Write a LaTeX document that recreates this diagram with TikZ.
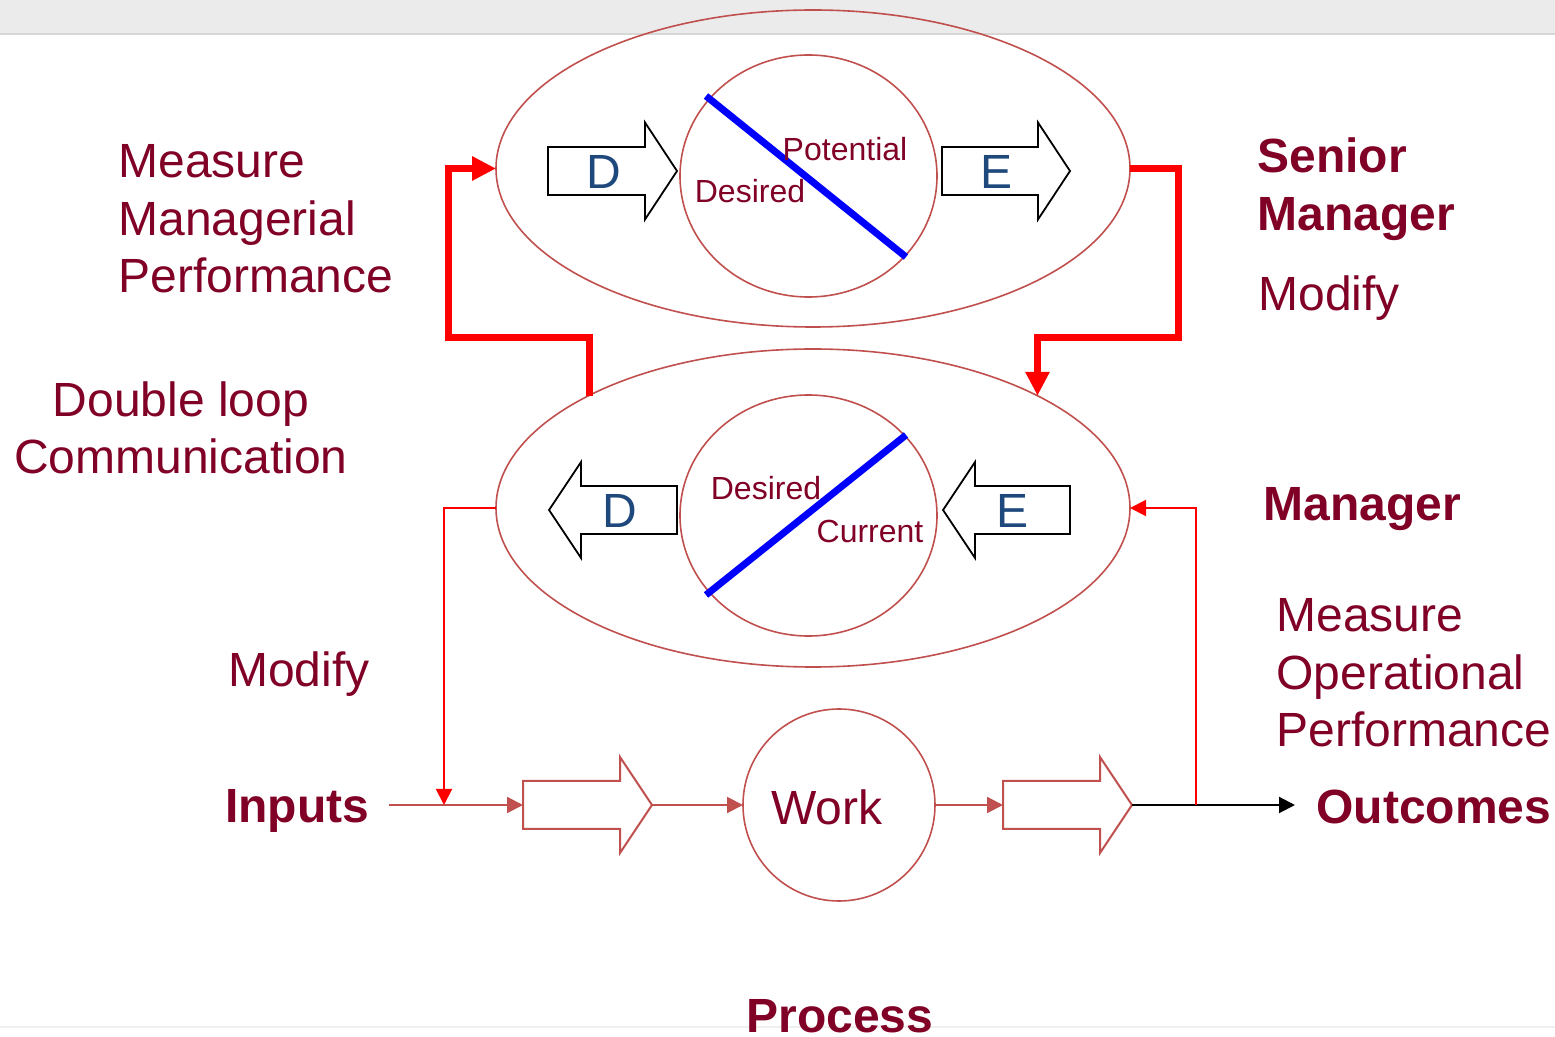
\documentclass[tikz,border=0pt]{standalone}
\usepackage{fontspec}
\setmainfont{Liberation Sans}
\usetikzlibrary{arrows.meta,shapes.geometric}
\definecolor{txt}{RGB}{128,0,38}
\definecolor{ell}{RGB}{192,80,77}
\definecolor{dblue}{RGB}{31,73,125}
\definecolor{barfill}{RGB}{235,235,235}
\definecolor{barline}{RGB}{215,215,215}
\definecolor{faint}{RGB}{240,240,240}
\begin{document}
\begin{tikzpicture}[x=0.5pt,y=-0.5pt,
  lbl/.style={text=txt,font=\fontsize{24}{28.75}\selectfont,inner sep=0pt},
  blbl/.style={lbl,font=\fontsize{24}{28.75}\selectfont\bfseries},
  small/.style={text=txt,font=\fontsize{16}{19}\selectfont,inner sep=0pt},
  ellip/.style={ellipse,draw=ell,line width=0.8pt,inner sep=0pt,outer sep=0pt},
  blockar/.style={draw=black,fill=white,line width=0.9pt,line join=miter},
  procar/.style={draw=ell,fill=white,line width=1pt,line join=miter},
  letter/.style={text=dblue,font=\fontsize{24}{28}\selectfont,inner sep=0pt},
  thick red/.style={draw=red,line width=3.5pt,-{Triangle[length=12pt,width=11.5pt]}},
  thin red/.style={draw=red,line width=1pt,-{Triangle[length=8pt,width=8pt]}},
  flow/.style={draw=ell,line width=1pt,-{Triangle[length=8pt,width=8pt]}},
  bflow/.style={draw=black,line width=1pt,-{Triangle[length=8pt,width=8pt]}},
  diag/.style={draw=blue,line width=3.5pt}
]
\useasboundingbox (0,0) rectangle (1555,1037);
% top bar
\fill[barfill] (0,0) rectangle (1555,34);
\draw[barline,line width=0.6pt] (0,34) -- (1555,34);
\draw[faint,line width=0.6pt] (0,1027) -- (1555,1027);

% ellipses
\node[ellip,minimum width=317pt,minimum height=158.5pt] (top) at (813,168.5) {};
\node[ellip,minimum width=317pt,minimum height=159pt] (bot) at (813,508) {};
\node[ellip,minimum width=128.5pt,minimum height=121pt] (tc) at (808.5,176) {};
\node[ellip,minimum width=128.5pt,minimum height=120.5pt] (bc) at (808.5,515.5) {};

% blue diagonals
\coordinate (t1) at (706,96); \coordinate (t2) at (906,257);
\draw[diag] (t1) -- (t2);
\coordinate (b1) at (706,595); \coordinate (b2) at (906,435);
\draw[diag] (b1) -- (b2);

\node[small] (pot) at (845,149) {Potential};
\node[small] (des1) at (750,191) {Desired};
\node[small] (des2) at (766,488) {Desired};
\node[small] (cur) at (870,531) {Current};

% block arrows top (right pointing)
\draw[blockar] (548,147) -- (645,147) -- (645,122.5) -- (677,171) -- (645,219.5) -- (645,195) -- (548,195) -- cycle;
\node[letter] (D1) at (604,172) {D};
\draw[blockar] (942,147) -- (1038,147) -- (1038,122.5) -- (1070,171) -- (1038,219.5) -- (1038,195) -- (942,195) -- cycle;
\node[letter] (E1) at (997,172) {E};
% block arrows bottom (left pointing)
\draw[blockar] (677,486) -- (581,486) -- (581,462) -- (549,510) -- (581,558) -- (581,534) -- (677,534) -- cycle;
\node[letter] (D2) at (620,511) {D};
\draw[blockar] (1070,486) -- (975,486) -- (975,462) -- (943,510) -- (975,558) -- (975,534) -- (1070,534) -- cycle;
\node[letter] (E2) at (1013,511) {E};

% thick red loops
\coordinate (bl) at (589,395.8);
\coordinate (br) at (1037.5,395.8);
\draw[thick red] (bl) -- (589,338) -| (448,168.5) -- (top.west);
\draw[thick red] (top.east) -- (1178,168.5) |- (1037.5,338) -- (br);

% process row
\coordinate (inS) at (389,805);
\coordinate (p1tail) at (523,805);
\coordinate (p1tip) at (652,805);
\coordinate (p2tail) at (1003,805);
\coordinate (p2tip) at (1132,805);
\coordinate (outE) at (1295,805);
\coordinate (mL) at (444,805);
\coordinate (mR) at (1196,805);
\node[ellip,circle,minimum size=96pt] (work) at (839,805) {};
\node[text=txt,font=\fontsize{24}{28}\selectfont,inner sep=0pt] at (827,807) {Work};
\draw[procar] (523,781) -- (620,781) -- (620,757) -- (652,805) -- (620,853) -- (620,829) -- (523,829) -- cycle;
\draw[procar] (1003,781) -- (1100,781) -- (1100,757) -- (1132,805) -- (1100,853) -- (1100,829) -- (1003,829) -- cycle;
\draw[flow] (inS) -- (p1tail);
\draw[flow] (p1tip) -- (work.west);
\draw[flow] (work.east) -- (p2tail);
\draw[bflow] (p2tip) -- (outE);

% thin red feedback
\draw[thin red] (bot.west) -- (444,508) -- (mL);
\draw[thin red] (mR) -- (1196,508) -- (bot.east);

% labels
\node[lbl,align=left,anchor=west] (mmp) at (118,219) {Measure\\Managerial\\Performance};
\node[lbl,align=center] (dlc) at (181,428) {Double loop\\Communication};
\node[lbl] (mod1) at (299,674) {Modify};
\node[blbl] (inp) at (297,811) {Inputs};
\node[blbl,align=left,anchor=west] (sm) at (1257,189) {Senior\\Manager};
\node[lbl,anchor=west] (mod2) at (1258,298) {Modify};
\node[blbl,anchor=west] (mgr) at (1263,509) {Manager};
\node[lbl,align=left,anchor=west] (mop) at (1276,673) {Measure\\Operational\\Performance};
\node[blbl,anchor=west] (out) at (1316,807) {Outcomes};
\node[blbl] (proc) at (840,1016) {Process};
\end{tikzpicture}
\end{document}
